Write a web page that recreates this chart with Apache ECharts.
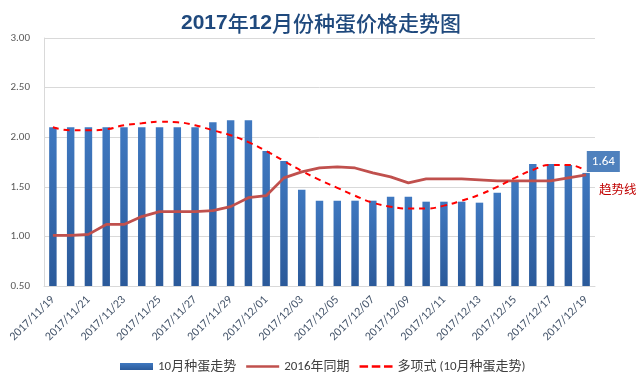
<!DOCTYPE html>
<html><head><meta charset="utf-8">
<script src="https://cdn.jsdelivr.net/npm/echarts@6/dist/echarts.min.js"></script>
<style>html,body{margin:0;padding:0;background:#fff}#c{width:642px;height:391px}</style>
</head><body><div id="c"></div>
<script>
const categories = ['2017/11/19','2017/11/20','2017/11/21','2017/11/22','2017/11/23','2017/11/24','2017/11/25','2017/11/26','2017/11/27','2017/11/28','2017/11/29','2017/11/30','2017/12/01','2017/12/02','2017/12/03','2017/12/04','2017/12/05','2017/12/06','2017/12/07','2017/12/08','2017/12/09','2017/12/10','2017/12/11','2017/12/12','2017/12/13','2017/12/14','2017/12/15','2017/12/16','2017/12/17','2017/12/18','2017/12/19'];
const eggs2017 = [2.10,2.10,2.10,2.10,2.10,2.10,2.10,2.10,2.10,2.15,2.17,2.17,1.86,1.76,1.47,1.36,1.36,1.36,1.36,1.40,1.40,1.35,1.35,1.35,1.34,1.44,1.56,1.73,1.73,1.72,1.64];
const same2016 = [1.01,1.01,1.02,1.12,1.12,1.20,1.25,1.25,1.25,1.26,1.30,1.39,1.41,1.59,1.65,1.69,1.70,1.69,1.64,1.60,1.54,1.58,1.58,1.58,1.57,1.56,1.56,1.56,1.56,1.59,1.62];
const trendLine = [2.10,2.07,2.07,2.08,2.12,2.14,2.155,2.15,2.12,2.07,2.02,1.95,1.86,1.76,1.66,1.57,1.49,1.41,1.34,1.30,1.28,1.28,1.31,1.36,1.42,1.50,1.59,1.67,1.72,1.72,1.66];
const yTicks = [0.5,1.0,1.5,2.0,2.5,3.0];
const seriesNames = ['10月种蛋走势','2016年同期','多项式 (10月种蛋走势)'];
const titleParts = [['2017','b'],['年','n'],['12','b'],['月份种蛋价格走势图','n']];
const lastLabel = '1.64';
const trendText = '趋势线';

const font = 'Calibri, "Liberation Sans", "Noto Sans CJK SC", sans-serif';
const cjk = '"Noto Sans CJK SC", sans-serif';
const chart = echarts.init(document.getElementById('c'), null, {renderer:'canvas'});
const barData = eggs2017.map((v,i)=> i===eggs2017.length-1 ? {value:v,label:{show:true,position:'insideTopRight',formatter:lastLabel,offset:[35,-27],backgroundColor:'#4f81bd',color:'#fff',padding:[4,5],fontSize:13,fontFamily:font}} : v);
const lineIcon = 'path://M0,4 L28,4 L28,6 L0,6 Z';
chart.setOption({
  animation:false,
  title:{text:titleParts.map(p=>'{'+p[1]+'|'+p[0]+'}').join(''),left:'center',top:8,
    textStyle:{rich:{
      b:{fontSize:21,fontWeight:'bold',color:'#1f497d',fontFamily:'"Liberation Sans", sans-serif'},
      n:{fontSize:21,fontWeight:500,color:'#1f497d',fontFamily:cjk}}}},
  grid:{left:44,right:47,top:38,bottom:105},
  legend:{bottom:13,left:115,itemGap:10,itemWidth:33,itemHeight:7,textStyle:{fontSize:13,color:'#404040',fontFamily:font},
    data:[{name:seriesNames[0],icon:'rect'},{name:seriesNames[1],icon:lineIcon,itemStyle:{color:'#c0504d'}},{name:seriesNames[2],icon:'path://M0,4 L7,4 L7,6 L0,6 Z M10,4 L17,4 L17,6 L10,6 Z M20,4 L27,4 L27,6 L20,6 Z',itemStyle:{color:'#ff0000'}}]},
  xAxis:{type:'category',data:categories,
    axisLine:{show:true,lineStyle:{color:'#d9d9d9'}},axisTick:{show:false},
    axisLabel:{interval:1,rotate:45,color:'#44546a',fontSize:12,fontFamily:font,margin:12}},
  yAxis:{type:'value',min:0.5,max:3.0,interval:0.5,
    axisLine:{show:true,lineStyle:{color:'#d9d9d9'}},axisTick:{show:false},
    splitLine:{lineStyle:{color:'#d9d9d9'}},
    axisLabel:{color:'#595959',fontSize:11,fontFamily:font,formatter:v=>v.toFixed(2),margin:14}},
  series:[
    {name:seriesNames[0],type:'bar',data:barData,barWidth:'42%',
      itemStyle:{color:new echarts.graphic.LinearGradient(0,0,0,1,[{offset:0,color:'#3f78c0'},{offset:1,color:'#2b5a9a'}])}},
    {name:seriesNames[1],type:'line',data:same2016,symbol:'none',lineStyle:{color:'#c0504d',width:2.75},itemStyle:{color:'#c0504d'}},
    {name:seriesNames[2],type:'line',data:trendLine,symbol:'none',smooth:true,lineStyle:{color:'#ff0000',width:2,type:[6,5]},itemStyle:{color:'#ff0000'}}
  ],
  graphic:[{type:'text',left:599,top:183,style:{text:trendText,fill:'#c00000',fontSize:12.5,fontFamily:cjk}}]
});
</script></body></html>
